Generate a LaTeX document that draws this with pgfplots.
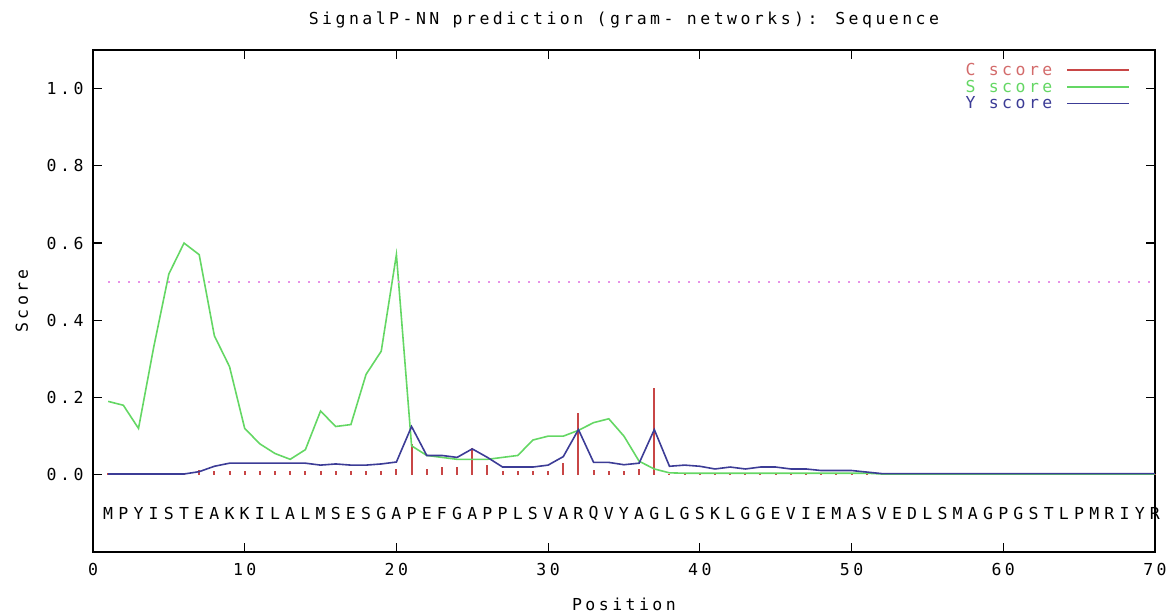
\documentclass[border=0pt]{standalone}
\usepackage{fontspec}
\newfontfamily\gp[LetterSpace=21]{DejaVu Sans Mono}
\usepackage{pgfplots}
\pgfplotsset{compat=1.18}
\pgfplotsset{gpline/.style={legend image code/.code={\draw[##1] (0pt,0pt) -- (62pt,0pt);}}}

\definecolor{cRed}{RGB}{200,70,70}
\definecolor{cGreen}{RGB}{100,215,100}
\definecolor{cBlue}{RGB}{60,60,150}
\definecolor{cPink}{RGB}{232,145,232}

\begin{document}
\begin{tikzpicture}[x=1pt,y=1pt]
\path[use as bounding box] (0,0) rectangle (1176,616);
\begin{axis}[
    at={(93pt,64pt)}, anchor=south west,
    scale only axis, width=1062pt, height=502pt,
    xmin=0, xmax=70, ymin=-0.2, ymax=1.1,
    xtick={0,10,...,70},
    ytick={0,0.2,0.4,0.6,0.8,1.0},
    yticklabel style={/pgf/number format/fixed, /pgf/number format/fixed zerofill,
        /pgf/number format/precision=1, xshift=-6pt},
    /pgf/number format/assume math mode=true,
    tick align=inside, major tick length=9pt,
    tick style={black, line width=1.2pt},
    axis line style={black, line width=1.4pt},
    ticklabel style={font=\gp\fontsize{16.5}{18}\selectfont},
    xticklabel style={yshift=-8pt},
    title={SignalP-NN prediction (gram- networks): Sequence},
    title style={font=\gp\fontsize{16.5}{18}\selectfont, at={(axis description cs:0.5,1)}, anchor=center, yshift=24pt},
    xlabel={Position},
    xlabel style={font=\gp\fontsize{16.5}{18}\selectfont, at={(axis description cs:0.5,0)}, anchor=center, yshift=-52pt},
    ylabel={Score},
    ylabel style={font=\gp\fontsize{16.5}{18}\selectfont, at={(axis description cs:-0.067,0.5)}, anchor=center},
    clip=false,
    legend plot pos=right,
    legend cell align=right,
    gpline,
    legend style={draw=none, fill=none, at={(rel axis cs:0.978,0.98)}, anchor=north east,
        font=\gp\fontsize{16.5}{18}\selectfont, row sep=-1pt, column sep=12pt, inner sep=1pt},
]
% C score (impulses)
\addplot[ycomb, cRed, line width=2pt, mark=none, gpline] coordinates {
(1,0.004) (2,0.004) (3,0.004) (4,0.004) (5,0.004) (6,0.004) (7,0.012)
(8,0.011) (9,0.011) (10,0.011) (11,0.011) (12,0.011) (13,0.011) (14,0.011)
(15,0.011) (16,0.011) (17,0.011) (18,0.011) (19,0.011) (20,0.014) (21,0.08)
(22,0.014) (23,0.02) (24,0.02) (25,0.07) (26,0.026) (27,0.011) (28,0.011)
(29,0.011) (30,0.011) (31,0.03) (32,0.16) (33,0.012) (34,0.011) (35,0.011)
(36,0.014) (37,0.225) (38,0.002) (39,0.002) (40,0.002) (41,0.002) (42,0.002)
(43,0.002) (44,0.002) (45,0.002) (46,0.002) (47,0.002) (48,0.002) (49,0.002)
(50,0.002) (51,0.002) (52,0.002) (53,0.002) (54,0.002) (55,0.002) (56,0.002)
(57,0.002) (58,0.002) (59,0.002) (60,0.002) (61,0.002) (62,0.002) (63,0.002)
(64,0.002) (65,0.002) (66,0.002) (67,0.002) (68,0.002) (69,0.002) (70,0.002)
};
\addlegendentry{\textcolor{cRed!80}{C score}}
% S score
\addplot[cGreen, line width=1.6pt, mark=none] coordinates {
(1,0.19) (2,0.18) (3,0.12) (4,0.33) (5,0.52) (6,0.60) (7,0.57)
(8,0.36) (9,0.28) (10,0.12) (11,0.08) (12,0.055) (13,0.04) (14,0.065)
(15,0.165) (16,0.125) (17,0.13) (18,0.26) (19,0.32) (20,0.57) (21,0.075)
(22,0.05) (23,0.045) (24,0.04) (25,0.04) (26,0.04) (27,0.045) (28,0.05)
(29,0.09) (30,0.10) (31,0.10) (32,0.115) (33,0.135) (34,0.145) (35,0.10)
(36,0.035) (37,0.015) (38,0.005) (39,0.004) (40,0.004) (41,0.004) (42,0.004)
(43,0.004) (44,0.004) (45,0.004) (46,0.004) (47,0.004) (48,0.004) (49,0.004)
(50,0.004) (51,0.004) (52,0.002) (53,0.002) (54,0.002) (55,0.002) (56,0.002)
(57,0.002) (58,0.002) (59,0.002) (60,0.002) (61,0.002) (62,0.002) (63,0.002)
(64,0.002) (65,0.002) (66,0.002) (67,0.002) (68,0.002) (69,0.002) (70,0.002)
};
\addlegendentry{\textcolor{cGreen}{S score}}
% Y score
\addplot[cBlue, line width=1.6pt, mark=none] coordinates {
(1,0.002) (2,0.002) (3,0.002) (4,0.002) (5,0.002) (6,0.002) (7,0.008)
(8,0.022) (9,0.03) (10,0.03) (11,0.03) (12,0.03) (13,0.03) (14,0.03)
(15,0.025) (16,0.028) (17,0.025) (18,0.025) (19,0.028) (20,0.033) (21,0.125)
(22,0.05) (23,0.05) (24,0.045) (25,0.067) (26,0.045) (27,0.02) (28,0.02)
(29,0.02) (30,0.025) (31,0.047) (32,0.117) (33,0.032) (34,0.032) (35,0.026)
(36,0.03) (37,0.117) (38,0.022) (39,0.025) (40,0.022) (41,0.015) (42,0.02)
(43,0.015) (44,0.02) (45,0.02) (46,0.015) (47,0.015) (48,0.011) (49,0.011)
(50,0.011) (51,0.007) (52,0.003) (53,0.003) (54,0.003) (55,0.003) (56,0.003)
(57,0.003) (58,0.003) (59,0.003) (60,0.003) (61,0.003) (62,0.003) (63,0.003)
(64,0.003) (65,0.003) (66,0.003) (67,0.003) (68,0.003) (69,0.003) (70,0.003)
};
\addlegendentry{\textcolor{cBlue}{Y score}}
% threshold
\addplot[cPink, line width=2pt, dash pattern=on 2pt off 8pt, forget plot] coordinates {(1,0.5) (70,0.5)};
% sequence letters
\addplot[draw=none, mark=none, forget plot, nodes near coords, point meta=explicit symbolic,
    every node near coord/.style={anchor=center, font=\gp\fontsize{16.5}{18}\selectfont, text=black}]
    table[meta=l, row sep=\\] {
x y l\\
1 -0.1 M\\ 2 -0.1 P\\ 3 -0.1 Y\\ 4 -0.1 I\\ 5 -0.1 S\\ 6 -0.1 T\\ 7 -0.1 E\\ 8 -0.1 A\\ 9 -0.1 K\\ 10 -0.1 K\\
11 -0.1 I\\ 12 -0.1 L\\ 13 -0.1 A\\ 14 -0.1 L\\ 15 -0.1 M\\ 16 -0.1 S\\ 17 -0.1 E\\ 18 -0.1 S\\ 19 -0.1 G\\ 20 -0.1 A\\
21 -0.1 P\\ 22 -0.1 E\\ 23 -0.1 F\\ 24 -0.1 G\\ 25 -0.1 A\\ 26 -0.1 P\\ 27 -0.1 P\\ 28 -0.1 L\\ 29 -0.1 S\\ 30 -0.1 V\\
31 -0.1 A\\ 32 -0.1 R\\ 33 -0.1 Q\\ 34 -0.1 V\\ 35 -0.1 Y\\ 36 -0.1 A\\ 37 -0.1 G\\ 38 -0.1 L\\ 39 -0.1 G\\ 40 -0.1 S\\
41 -0.1 K\\ 42 -0.1 L\\ 43 -0.1 G\\ 44 -0.1 G\\ 45 -0.1 E\\ 46 -0.1 V\\ 47 -0.1 I\\ 48 -0.1 E\\ 49 -0.1 M\\ 50 -0.1 A\\
51 -0.1 S\\ 52 -0.1 V\\ 53 -0.1 E\\ 54 -0.1 D\\ 55 -0.1 L\\ 56 -0.1 S\\ 57 -0.1 M\\ 58 -0.1 A\\ 59 -0.1 G\\ 60 -0.1 P\\
61 -0.1 G\\ 62 -0.1 S\\ 63 -0.1 T\\ 64 -0.1 L\\ 65 -0.1 P\\ 66 -0.1 M\\ 67 -0.1 R\\ 68 -0.1 I\\ 69 -0.1 Y\\ 70 -0.1 R\\
};
\end{axis}
\end{tikzpicture}
\end{document}
